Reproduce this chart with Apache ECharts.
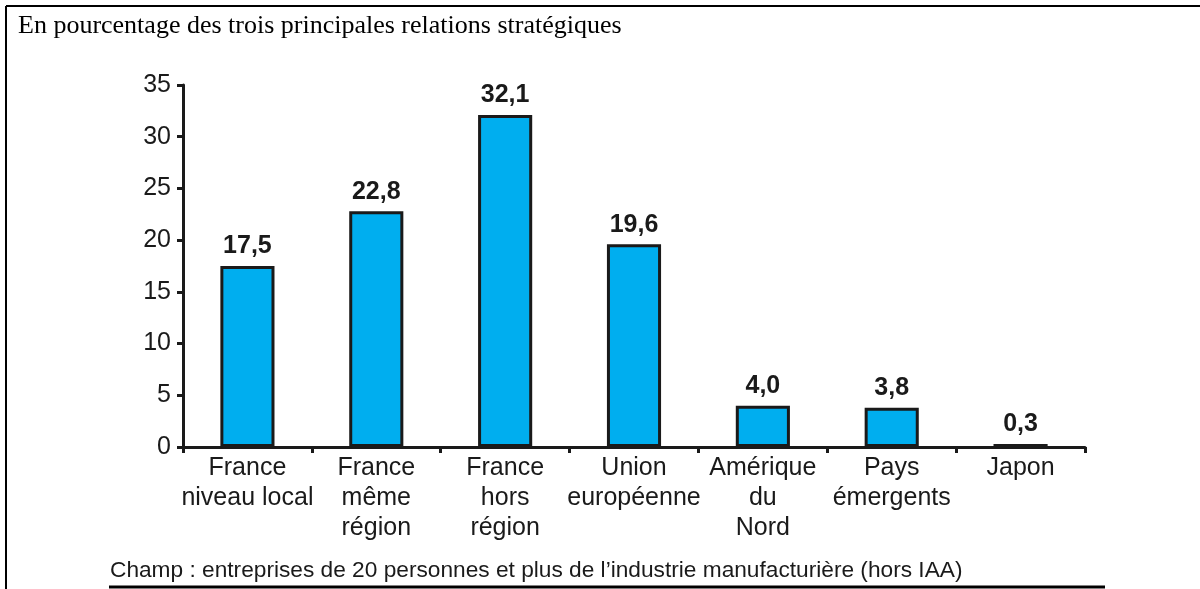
<!DOCTYPE html>
<html>
<head>
<meta charset="utf-8">
<script src="https://cdn.jsdelivr.net/npm/echarts@6/dist/echarts.min.js"></script>
<style>
html,body{margin:0;padding:0;background:#fff;}
#chart{width:1200px;height:589px;}
</style>
</head>
<body>
<div id="chart"></div>
<script>
const titleText = "En pourcentage des trois principales relations stratégiques";
const footnoteText = "Champ : entreprises de 20 personnes et plus de l\u2019industrie manufacturière (hors IAA)";
const categories = ["France\nniveau local", "France\nmême\nrégion", "France\nhors\nrégion", "Union\neuropéenne", "Amérique\ndu\nNord", "Pays\némergents", "Japon"];
const values = [17.5, 22.8, 32.1, 19.6, 4.0, 3.8, 0.3];
const yTicks = { min: 0, max: 35, interval: 5 };

const chart = echarts.init(document.getElementById('chart'), null, { renderer: 'canvas' });
const textColor = '#1a1a1a';
chart.setOption({
  animation: false,
  backgroundColor: '#ffffff',
  grid: { left: 183, right: 115, top: 85, bottom: 142, containLabel: false },
  xAxis: {
    type: 'category',
    data: categories,
    axisLine: { show: true, lineStyle: { color: '#1a1a1a', width: 3 } },
    axisTick: { show: true, alignWithLabel: false, length: 6, inside: false, lineStyle: { color: '#1a1a1a', width: 3 } },
    axisLabel: {
      interval: 0,
      margin: 6,
      color: textColor,
      fontFamily: 'Liberation Sans, Arial, sans-serif',
      fontSize: 25,
      lineHeight: 30
    }
  },
  yAxis: {
    type: 'value',
    min: yTicks.min,
    max: yTicks.max,
    interval: yTicks.interval,
    splitLine: { show: false },
    axisLine: { show: true, lineStyle: { color: '#1a1a1a', width: 3 } },
    axisTick: { show: true, length: 6, lineStyle: { color: '#1a1a1a', width: 3 } },
    axisLabel: {
      margin: 12,
      color: textColor,
      fontFamily: 'Liberation Sans, Arial, sans-serif',
      fontSize: 25
    }
  },
  series: [{
    type: 'bar',
    data: values,
    barWidth: '42%',
    itemStyle: { color: '#00aeef', borderColor: '#1a1a1a', borderWidth: 3 },
    label: {
      show: true,
      position: 'top',
      distance: 7,
      color: textColor,
      fontFamily: 'Liberation Sans, Arial, sans-serif',
      fontWeight: 'bold',
      fontSize: 25,
      formatter: p => p.value.toFixed(1).replace('.', ',')
    }
  }],
  graphic: [
    { type: 'line', shape: { x1: 6, y1: 6, x2: 1200, y2: 6 }, style: { stroke: '#000', lineWidth: 2 } },
    { type: 'line', shape: { x1: 6, y1: 6, x2: 6, y2: 589 }, style: { stroke: '#000', lineWidth: 2 } },
    { type: 'line', shape: { x1: 109, y1: 587, x2: 1105, y2: 587 }, style: { stroke: '#000', lineWidth: 3 } },
    { type: 'text', left: 18, top: 13, style: { text: titleText, fill: '#000', font: '26px "Liberation Serif", "Times New Roman", serif' } },
    { type: 'text', left: 110, top: 559, style: { text: footnoteText, fill: textColor, font: '22.7px "Liberation Sans", Arial, sans-serif' } }
  ]
});
</script>
</body>
</html>
